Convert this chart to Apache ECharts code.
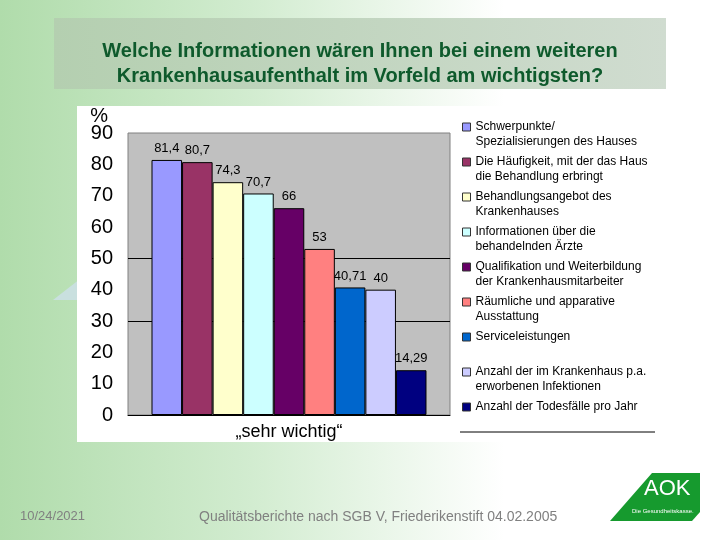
<!DOCTYPE html>
<html>
<head>
<meta charset="utf-8">
<script src="https://cdn.jsdelivr.net/npm/echarts@6/dist/echarts.min.js"></script>
<style>
html,body{margin:0;padding:0;background:#fff;}
#chart{width:720px;height:540px;}
</style>
</head>
<body>
<div id="chart"></div>
<script>
// ---- data ----
const categories = ['„sehr wichtig“'];
const seriesNames = [
  'Schwerpunkte/\nSpezialisierungen des Hauses',
  'Die Häufigkeit, mit der das Haus\ndie Behandlung erbringt',
  'Behandlungsangebot des\nKrankenhauses',
  'Informationen über die\nbehandelnden Ärzte',
  'Qualifikation und Weiterbildung\nder Krankenhausmitarbeiter',
  'Räumliche und apparative\nAusstattung',
  'Serviceleistungen\n ',
  'Anzahl der im Krankenhaus p.a.\nerworbenen Infektionen',
  'Anzahl der Todesfälle pro Jahr\n '
];
const values = [81.4, 80.7, 74.3, 70.7, 66, 53, 40.71, 40, 14.29];
const refLines = [50, 30];
const titleText = 'Welche Informationen wären Ihnen bei einem weiteren\nKrankenhausaufenthalt im Vorfeld am wichtigsten?';
const footerDate = '10/24/2021';
const footerText = 'Qualitätsberichte nach SGB V, Friederikenstift 04.02.2005';

// ---- styles ----
const palette = ['#9999FF', '#993366', '#FFFFCC', '#CCFFFF', '#660066', '#FF8080', '#0066CC', '#CCCCFF', '#000080'];
const FONT = 'Liberation Sans, Arial, sans-serif';

const chart = echarts.init(document.getElementById('chart'), null, {renderer: 'canvas'});

const series = seriesNames.map((name, i) => ({
  name: name,
  type: 'bar',
  z: 3,
  barGap: '0%',
  barCategoryGap: '14.6%',
  data: [values[i]],
  itemStyle: {color: palette[i], borderColor: '#000', borderWidth: 1},
  label: {
    show: true, position: 'top', distance: 5,
    fontFamily: FONT, fontSize: 13, color: '#000',
    formatter: p => String(p.value).replace('.', ',')
  }
}));
series.push({
  name: 'ref', type: 'line', data: ['-'], showSymbol: false, silent: true, z: 1,
  markLine: {
    z: 1, silent: true, symbol: 'none', animation: false,
    label: {show: false},
    lineStyle: {color: '#000', width: 1, type: 'solid'},
    data: refLines.map(v => ({yAxis: v}))
  }
});

const option = {
  animation: false,
  backgroundColor: {
    type: 'linear', x: 0, y: 0, x2: 1, y2: 0,
    colorStops: [
      {offset: 0, color: '#b0dcab'},
      {offset: 0.35, color: '#d2ecd0'},
      {offset: 0.7, color: '#ffffff'},
      {offset: 1, color: '#ffffff'}
    ]
  },
  graphic: [
    {type: 'rect', z: -10, shape: {x: 54, y: 18, width: 612, height: 71},
     style: {fill: {type: 'linear', x: 0, y: 0, x2: 1, y2: 0,
       colorStops: [{offset: 0, color: '#b4cfb0'}, {offset: 1, color: '#d0dcd0'}]}}},
    {type: 'polygon', z: -10, shape: {points: [[53, 300], [80, 279], [80, 300]]}, style: {fill: '#c9e0df'}},
    {type: 'rect', z: -9, shape: {x: 77, y: 106, width: 588, height: 336}, style: {fill: '#ffffff'}},
    {type: 'line', z: 5, shape: {x1: 460, y1: 432, x2: 655, y2: 432}, style: {stroke: '#000', lineWidth: 1}},
    {type: 'text', z: 5, left: 20, top: 510, style: {text: footerDate, fill: '#808080', font: '13px ' + FONT}},
    {type: 'text', z: 5, left: 199, top: 510, style: {text: footerText, fill: '#808080', font: '14px ' + FONT}},
    {type: 'polygon', z: 5, shape: {points: [[610, 521], [652, 473], [700, 473], [700, 512], [692, 521]]}, style: {fill: '#169a2e'}},
    {type: 'text', z: 6, left: 644, top: 478, style: {text: 'AOK', fill: '#fff', font: '22px ' + FONT}},
    {type: 'text', z: 6, left: 632, top: 508, style: {text: 'Die Gesundheitskasse.', fill: '#fff', font: '6px ' + FONT}}
  ],
  title: {
    text: titleText, left: 'center', top: 39, padding: 0,
    textStyle: {fontFamily: FONT, fontSize: 20, fontWeight: 'bold', color: '#0e5a2c', lineHeight: 25}
  },
  legend: {
    orient: 'vertical', left: 462, top: 104.5, padding: 0,
    itemWidth: 8, itemHeight: 8, itemGap: -10,
    icon: 'rect',
    data: seriesNames,
    formatter: name => '\n' + name,
    itemStyle: {borderColor: '#333', borderWidth: 1},
    textStyle: {fontFamily: FONT, fontSize: 12, color: '#000', lineHeight: 15}
  },
  grid: {
    left: 128, right: 270, top: 133, bottom: 125,
    show: true, backgroundColor: '#c0c0c0', borderColor: '#808080', borderWidth: 1
  },
  xAxis: {
    type: 'category', data: categories,
    axisLine: {show: true, lineStyle: {color: '#000', width: 1}},
    axisTick: {show: false},
    axisLabel: {fontFamily: FONT, fontSize: 18, color: '#000', margin: 8}
  },
  yAxis: {
    type: 'value', min: 0, max: 90, interval: 10,
    name: '%', nameLocation: 'end', nameGap: 17, nameMoveOverlap: false,
    nameTextStyle: {fontFamily: FONT, fontSize: 20, color: '#000', align: 'right', verticalAlign: 'middle', padding: [0, 20, 0, 0]},
    axisLine: {show: false}, axisTick: {show: false}, splitLine: {show: false},
    axisLabel: {fontFamily: FONT, fontSize: 20, color: '#000', margin: 15}
  },
  series: series
};
chart.setOption(option);
</script>
</body>
</html>
